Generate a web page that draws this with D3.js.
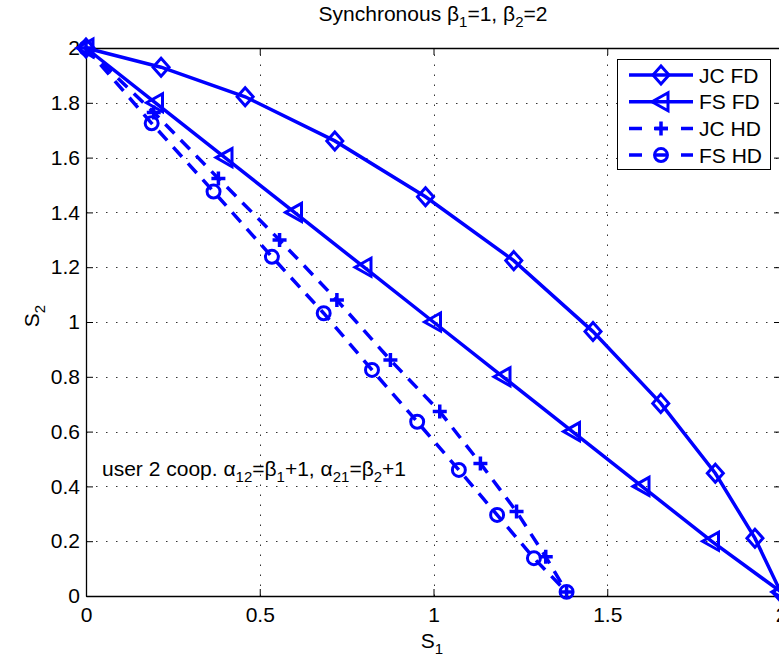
<!DOCTYPE html>
<html>
<head>
<meta charset="utf-8">
<script src="https://cdn.jsdelivr.net/npm/d3@7"></script>
<style>
  body { margin: 0; background: #fff; }
  svg text { font-family: "Liberation Sans", Arial, Helvetica, sans-serif; }
</style>
</head>
<body>
<div id="chart"></div>
<script>
// values
var jcFdS1 = [0, 0.216, 0.458, 0.716, 0.977, 1.231, 1.459, 1.654, 1.811, 1.925, 2.0];
var jcFdS2 = [2, 1.93, 1.822, 1.661, 1.457, 1.224, 0.965, 0.703, 0.448, 0.211, 0.012];

var fsFdS1 = [0, 0.2, 0.4, 0.6, 0.8, 1.0, 1.2, 1.4, 1.6, 1.8, 2.0];
var fsFdS2 = [2, 1.8, 1.6, 1.4, 1.2, 1.0, 0.8, 0.6, 0.4, 0.2, 0.015];

var jcHdS1 = [0, 0.195, 0.381, 0.557, 0.722, 0.876, 1.018, 1.135, 1.239, 1.323, 1.383];
var jcHdS2 = [2, 1.765, 1.524, 1.299, 1.080, 0.861, 0.673, 0.484, 0.308, 0.143, 0.015];

var fsHdS1 = [0, 0.189, 0.367, 0.535, 0.684, 0.823, 0.953, 1.073, 1.183, 1.289, 1.383];
var fsHdS2 = [2, 1.725, 1.476, 1.238, 1.032, 0.825, 0.636, 0.46, 0.296, 0.138, 0.015];

var legendNames = ["JC FD", "FS FD", "JC HD", "FS HD"];
var xTicks = [0, 0.5, 1, 1.5, 2];
var yTicks = [0, 0.2, 0.4, 0.6, 0.8, 1, 1.2, 1.4, 1.6, 1.8, 2];

var width = 779;
var height = 659;
var blue = "#0000ff";
var fontSize = 21;
var subSize = 15;

var svg = d3.select("#chart")
  .append("svg")
  .attr("width", width)
  .attr("height", height);

var x = d3.scaleLinear().domain([0, 2]).range([86, 781]);
var y = d3.scaleLinear().domain([0, 2]).range([596, 48]);

// dotted grid
svg.append("g").selectAll("line")
  .data(xTicks)
  .enter().append("line")
  .attr("x1", d => Math.round(x(d)) + 0.5)
  .attr("x2", d => Math.round(x(d)) + 0.5)
  .attr("y1", y(0))
  .attr("y2", y(2))
  .attr("stroke", "#333")
  .attr("stroke-width", 1)
  .attr("stroke-dasharray", "1.5,8.5");

svg.append("g").selectAll("line")
  .data(yTicks)
  .enter().append("line")
  .attr("y1", d => Math.round(y(d)) + 0.5)
  .attr("y2", d => Math.round(y(d)) + 0.5)
  .attr("x1", x(0))
  .attr("x2", x(2))
  .attr("stroke", "#333")
  .attr("stroke-width", 1)
  .attr("stroke-dasharray", "1.5,8.5");

// axes, ticks pointing inward like matlab
function styleAxis(g) {
  g.selectAll("path").attr("stroke", "#000").attr("stroke-width", 1.3);
  g.selectAll("line").attr("stroke", "#000").attr("stroke-width", 1);
  g.selectAll("text")
    .attr("fill", "#000")
    .style("font-size", fontSize + "px")
    .style("font-family", "'Liberation Sans', Arial, sans-serif");
}

svg.append("g")
  .attr("transform", "translate(0," + y(0) + ")")
  .call(d3.axisBottom(x).tickValues(xTicks).tickSize(-7).tickSizeOuter(0).tickPadding(11)
    .tickFormat(d3.format("")))
  .call(styleAxis);

svg.append("g")
  .attr("transform", "translate(" + x(0) + ",0)")
  .call(d3.axisLeft(y).tickValues(yTicks).tickSize(-7).tickSizeOuter(0).tickPadding(6)
    .tickFormat(d3.format("")))
  .call(styleAxis);

svg.append("g")
  .attr("transform", "translate(0," + y(2) + ")")
  .call(d3.axisTop(x).tickValues(xTicks).tickSize(-7).tickSizeOuter(0).tickFormat(""))
  .call(styleAxis);

svg.append("g")
  .attr("transform", "translate(" + x(2) + ",0)")
  .call(d3.axisRight(y).tickValues(yTicks).tickSize(-7).tickSizeOuter(0).tickFormat(""))
  .call(styleAxis);

// markers
var markerPaths = {
  diamond: "M0,-9L8,0L0,9L-8,0Z",
  triangle: "M-9,0L7,-9L7,9Z",
  plus: "M-7,0L7,0M0,-7L0,7",
  circle: d3.symbol().type(d3.symbolCircle).size(Math.PI * 42)()
};

var series = [
  { s1: jcFdS1, s2: jcFdS2, dash: null, marker: "diamond" },
  { s1: fsFdS1, s2: fsFdS2, dash: null, marker: "triangle" },
  { s1: jcHdS1, s2: jcHdS2, dash: "13,9", marker: "plus" },
  { s1: fsHdS1, s2: fsHdS2, dash: "13,9", marker: "circle" }
];

var line = d3.line()
  .x(d => x(d[0]))
  .y(d => y(d[1]));

series.forEach(function (s) {
  var pts = d3.zip(s.s1, s.s2);
  svg.append("path")
    .datum(pts)
    .attr("fill", "none")
    .attr("stroke", blue)
    .attr("stroke-width", 3.5)
    .attr("stroke-dasharray", s.dash)
    .attr("d", line);

  svg.append("g").selectAll("path")
    .data(pts)
    .enter().append("path")
    .attr("transform", d => "translate(" + x(d[0]) + "," + y(d[1]) + ")")
    .attr("d", markerPaths[s.marker])
    .attr("fill", "none")
    .attr("stroke", blue)
    .attr("stroke-width", s.marker == "plus" ? 3.5 : 3);
});

// text with subscripts
function richText(sel, parts) {
  parts.forEach(function (p, i) {
    var t = sel.append("tspan").text(p[0]);
    if (p[1]) {
      t.attr("dy", 6).style("font-size", subSize + "px");
    } else if (i > 0 && parts[i - 1][1]) {
      t.attr("dy", -6);
    }
  });
}

var title = svg.append("text")
  .attr("x", 433)
  .attr("y", 21)
  .attr("text-anchor", "middle")
  .style("font-size", fontSize + "px");
richText(title, [["Synchronous \u03b2"], ["1", 1], ["=1, \u03b2"], ["2", 1], ["=2"]]);

var xlab = svg.append("text")
  .attr("x", 432)
  .attr("y", 648)
  .attr("text-anchor", "middle")
  .style("font-size", fontSize + "px");
richText(xlab, [["S"], ["1", 1]]);

var ylab = svg.append("text")
  .attr("transform", "translate(39,316) rotate(-90)")
  .attr("text-anchor", "middle")
  .style("font-size", fontSize + "px");
richText(ylab, [["S"], ["2", 1]]);

var note = svg.append("text")
  .attr("x", 102)
  .attr("y", 476)
  .style("font-size", fontSize + "px");
richText(note, [["user 2 coop. \u03b1"], ["12", 1], ["=\u03b2"], ["1", 1], ["+1, \u03b1"], ["21", 1], ["=\u03b2"], ["2", 1], ["+1"]]);

// legend
var legend = svg.append("g");
legend.append("rect")
  .attr("x", 617.5)
  .attr("y", 59.5)
  .attr("width", 153)
  .attr("height", 110)
  .attr("fill", "#fff")
  .attr("stroke", "#000")
  .attr("stroke-width", 1);

var rows = legend.selectAll("g.row")
  .data(legendNames)
  .enter().append("g")
  .attr("class", "row")
  .attr("transform", (d, i) => "translate(0," + (75 + i * 26.7) + ")");

rows.append("line")
  .attr("x1", 629)
  .attr("x2", 693)
  .attr("y1", 0)
  .attr("y2", 0)
  .attr("stroke", blue)
  .attr("stroke-width", 3.5)
  .attr("stroke-dasharray", (d, i) => series[i].dash ? "13,13" : null);

rows.append("path")
  .attr("transform", "translate(661,0)")
  .attr("d", (d, i) => markerPaths[series[i].marker])
  .attr("fill", "none")
  .attr("stroke", blue)
  .attr("stroke-width", (d, i) => series[i].marker == "plus" ? 3.5 : 3);

rows.append("text")
  .attr("x", 699)
  .attr("dy", "0.36em")
  .style("font-size", fontSize + "px")
  .text(d => d);
</script>
</body>
</html>
